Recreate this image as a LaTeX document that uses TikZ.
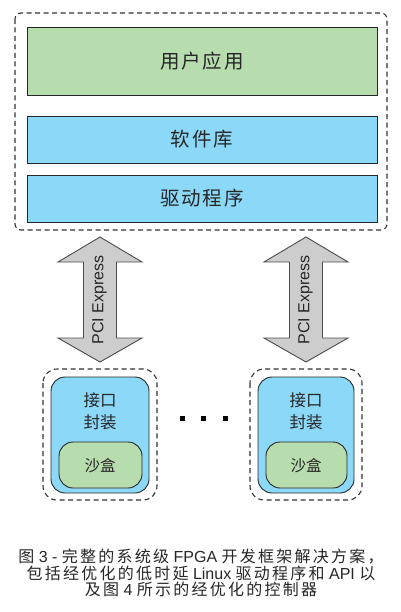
\documentclass[tikz,border=0pt]{standalone}
\usepackage{fontspec}
\setmainfont{Liberation Sans}
\newfontfamily\cjk{Noto Sans CJK SC}
\newfontfamily\cjkwide[LetterSpace=10]{Noto Sans CJK SC}
\newfontfamily\cjkcap[LetterSpace=14]{Noto Sans CJK SC}
\begin{document}
\begin{tikzpicture}[x=1pt,y=-1pt,
  dashbox/.style={draw=black!80,line width=1.1pt,dash pattern=on 5pt off 3.5pt,rounded corners=6pt},
  layer/.style={draw=black!85,line width=0.9pt},
  greenfill/.style={fill=appgreen},
  bluefill/.style={fill=libblue},
  bigtxt/.style={font=\cjkwide\fontsize{19.5}{22}\selectfont,text=black!85},
  modtxt/.style={font=\cjk\fontsize{16.5}{22}\selectfont,text=black!85,align=center},
  pcie/.style={draw=black!70,line width=0.9pt,fill=arrowgrey},
  dot/.style={fill=black,minimum size=5pt,inner sep=0pt}]
\definecolor{appgreen}{HTML}{B7DCAE}
\definecolor{libblue}{HTML}{8CD8F8}
\definecolor{arrowgrey}{HTML}{CDCDCD}
\useasboundingbox (0,0) rectangle (400,612);
% host side
\draw[dashbox] (15,13) rectangle (387,230);
\node[layer,greenfill,minimum width=350pt,minimum height=68pt,bigtxt] (app) at (202,61) {用户应用};
\node[layer,bluefill,minimum width=350pt,minimum height=47pt,bigtxt] (lib) at (202,139.5) {软件库};
\node[layer,bluefill,minimum width=350pt,minimum height=47pt,bigtxt] (drv) at (202,198.5) {驱动程序};
% PCIe arrows
\foreach \n/\cx in {L/100,R/306}{
  \draw[pcie] (\cx,237) -- (\cx+42,262) -- (\cx+16.5,262) -- (\cx+16.5,338) -- (\cx+42,338)
    -- (\cx,362) -- (\cx-42,338) -- (\cx-16.5,338) -- (\cx-16.5,262) -- (\cx-42,262) -- cycle;
  \node[rotate=90,font=\fontsize{16}{18}\selectfont,text=black!85] (pcie\n) at (\cx-0.5,300) {PCI Express};
}
% FPGA modules
\foreach \n/\xl/\xr in {L/43/157,R/250/362}{
  \draw[dashbox,rounded corners=14pt] (\xl,369) rectangle (\xr,500);
  \draw[layer,bluefill,rounded corners=14pt] (\xl+8,377) rectangle (\xr-8,493);
  \node[modtxt] (wrap\n) at ({(\xl+\xr)/2},411) {接口\\封装};
  \draw[layer,greenfill,rounded corners=14pt] (\xl+16,442) rectangle (\xr-15,488);
  \node[modtxt,font=\cjk\fontsize{15.5}{17}\selectfont] (sand\n) at ({(\xl+\xr)/2},466) {沙盒};
}
% ellipsis dots
\node[dot] (d1) at (182,418) {};
\node[dot] (d2) at (203.5,418) {};
\node[dot] (d3) at (225,418) {};
% caption
\node[font=\fontsize{16}{16.5}\selectfont,text=black!85,align=center,inner sep=0pt] (cap) at (201,573)
  {{\cjkcap 图} 3 - {\cjkcap 完整的系统级} FPGA {\cjkcap 开发框架解决方案，}\\
   {\cjkcap 包括经优化的低时延} Linux {\cjkcap 驱动程序和} API {\cjkcap 以}\\
   {\cjkcap 及图} 4 {\cjkcap 所示的经优化的控制器}};
\end{tikzpicture}
\end{document}
